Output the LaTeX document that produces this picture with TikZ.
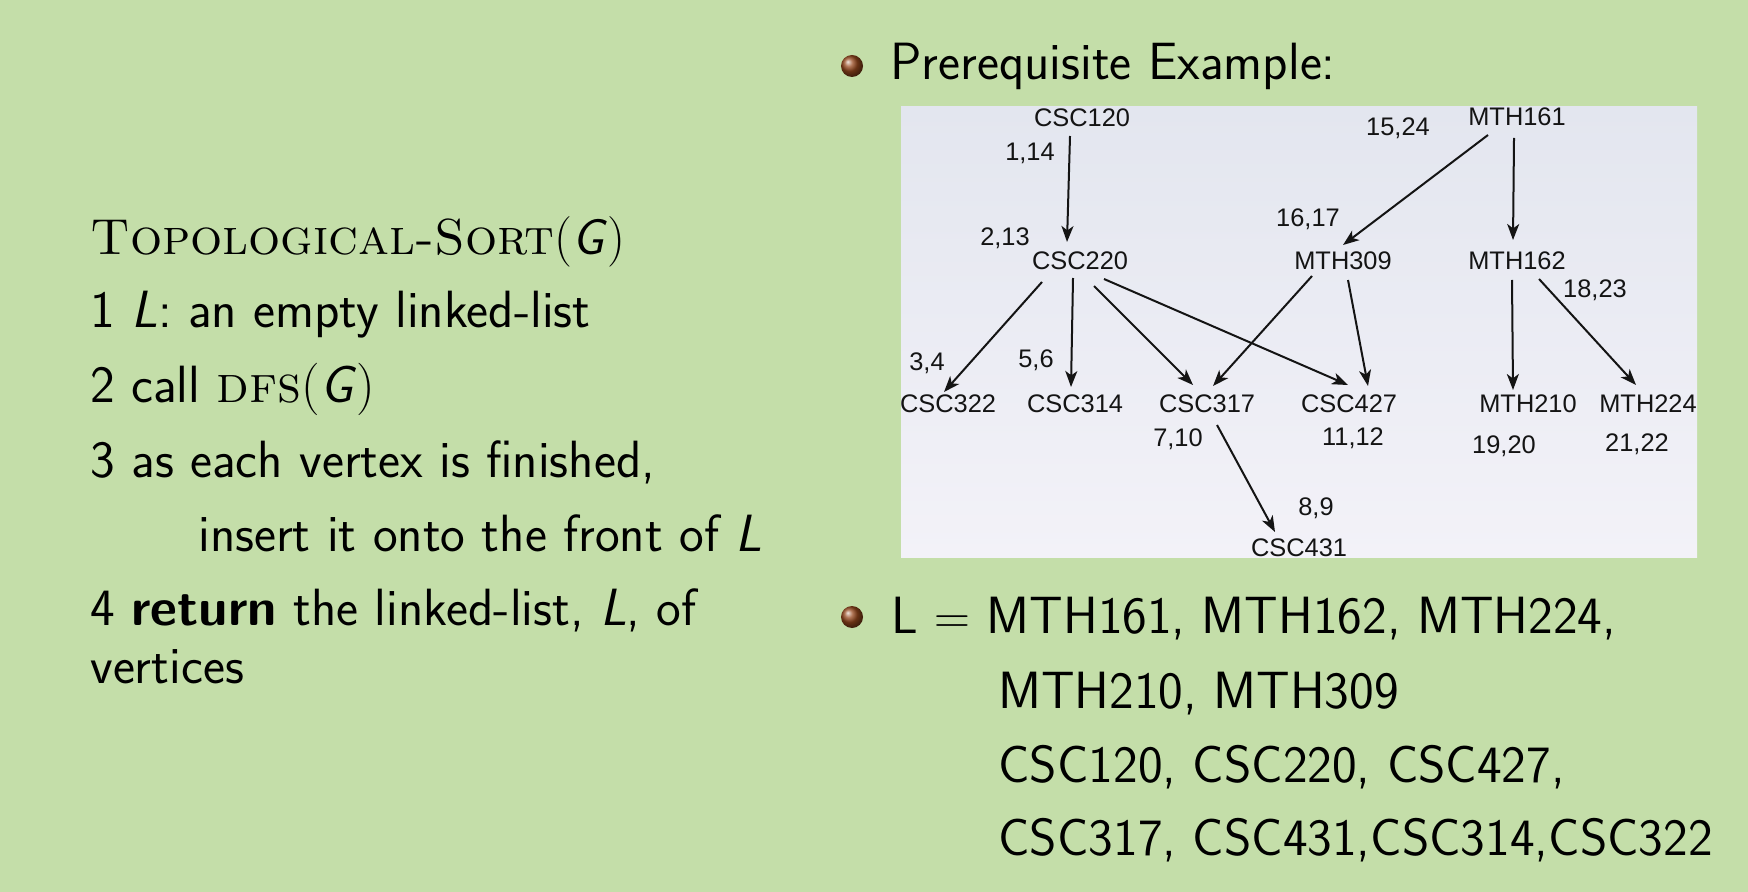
\documentclass[tikz,border=0pt]{standalone}
\usepackage{fontspec}
\newfontfamily\gfont{Liberation Sans}
\usetikzlibrary{arrows.meta,calc}
\definecolor{bgA}{RGB}{196,222,169}
\definecolor{bgB}{RGB}{211,229,176}
\definecolor{boxA}{RGB}{227,230,239}
\definecolor{boxB}{RGB}{243,242,248}
\definecolor{bullcol}{RGB}{150,72,30}
\definecolor{ink}{RGB}{20,20,20}
\tikzset{
  gtext/.style={font=\gfont\fontsize{12.7}{15}\selectfont, text=ink, inner sep=0pt, text depth=0pt},
  garr/.style={draw=ink, line width=1pt, -{Stealth[length=8pt,width=6pt,inset=2.2pt]}},
  mtext/.style={font=\sffamily\fontsize{26.2}{31}\selectfont, anchor=base west, inner sep=0pt},
  ttext/.style={font=\sffamily\fontsize{25.3}{30}\selectfont, anchor=base west, inner sep=0pt},
  bullet/.style={ball color=bullcol}
}
\begin{document}
\begin{tikzpicture}[x=0.5pt,y=-0.5pt]
\useasboundingbox (0,0) rectangle (1748,892);
\shade[top color=bgA, middle color=bgB, bottom color=bgA] (0,0) rectangle (1748,892);

% left pseudo-code
\node[ttext] (t0) at (90,255) {\rmfamily\textsc{Topological-Sort}(\textsf{\textit{G}})};
\node[mtext] (t1) at (90,328) {1 \textit{L}: an empty linked-list};
\node[mtext] (t2) at (90,402) {2 call {\rmfamily\textsc{dfs}(}\textit{G}{\rmfamily)}};
\node[mtext] (t3) at (90,477) {3 as each vertex is finished,};
\node[mtext] (t4) at (198,551) {insert it onto the front of \textit{L}};
\node[mtext] (t5) at (90,625) {4 \textbf{return} the linked-list, \textit{L}, of};
\node[mtext] (t6) at (90,683) {vertices};

% right bullets
\shade[bullet] (852,66) circle (5.5pt);
\node[mtext] (pre) at (890,80) {Prerequisite Example:};
\shade[bullet] (852,617) circle (5.5pt);
\node[mtext] (l1) at (891,633) {L $=$ MTH161, MTH162, MTH224,};
\node[mtext] (l2) at (998,708) {MTH210, MTH309};
\node[mtext] (l3) at (998,782) {CSC120, CSC220, CSC427,};
\node[mtext] (l4) at (998,855) {CSC317, CSC431,CSC314,CSC322};

% graph picture
\begin{scope}
\clip (901,107) rectangle (1697,557);
\shade[top color=boxA, bottom color=boxB] (901,107) rectangle (1697,557);
\node[gtext] (csc120) at (1082,118) {CSC120};
\node[gtext] (csc220) at (1080,261) {CSC220};
\node[gtext] (csc322) at (948,404) {CSC322};
\node[gtext] (csc314) at (1075,404) {CSC314};
\node[gtext] (csc317) at (1207,404) {CSC317};
\node[gtext] (csc427) at (1349,404) {CSC427};
\node[gtext] (csc431) at (1299,548) {CSC431};
\node[gtext] (mth161) at (1517,117) {MTH161};
\node[gtext] (mth309) at (1343,261) {MTH309};
\node[gtext] (mth162) at (1517,261) {MTH162};
\node[gtext] (mth210) at (1528,404) {MTH210};
\node[gtext] (mth224) at (1648,404) {MTH224};

\node[gtext] (l114) at (1030,152) {1,14};
\node[gtext] (l213) at (1005,237) {2,13};
\node[gtext] (l34) at (927,362) {3,4};
\node[gtext] (l56) at (1036,359) {5,6};
\node[gtext] (l710) at (1178,438) {7,10};
\node[gtext] (l89) at (1316,507) {8,9};
\node[gtext] (l1617) at (1308,218) {16,17};
\node[gtext] (l1112) at (1353,437) {11,12};
\node[gtext] (l1524) at (1398,127) {15,24};
\node[gtext] (l1823) at (1595,289) {18,23};
\node[gtext] (l1920) at (1504,445) {19,20};
\node[gtext] (l2122) at (1637,443) {21,22};

\draw[garr] ($(csc120)+(-12,18)$) -- ($(csc220)+(-13,-19)$);
\draw[garr] ($(csc220)+(-38,21)$) -- ($(csc322)+(-4,-12)$);
\draw[garr] ($(csc220)+(-7,17)$) -- ($(csc314)+(-4,-17)$);
\draw[garr] ($(csc220)+(14,25)$) -- ($(csc317)+(-14,-19)$);
\draw[garr] ($(csc220)+(24,18)$) -- ($(csc427)+(-1,-19)$);
\draw[garr] ($(mth309)+(-31,15)$) -- ($(csc317)+(6,-18)$);
\draw[garr] ($(mth309)+(5,19)$) -- ($(csc427)+(19,-18)$);
\draw[garr] ($(csc317)+(10,21)$) -- ($(csc431)+(-24,-16)$);
\draw[garr] ($(mth161)+(-29,18)$) -- ($(mth309)+(0,-16)$);
\draw[garr] ($(mth161)+(-3,21)$) -- ($(mth162)+(-4,-21)$);
\draw[garr] ($(mth162)+(-5,19)$) -- ($(mth210)+(-15,-14)$);
\draw[garr] ($(mth162)+(22,18)$) -- ($(mth224)+(-12,-19)$);
\end{scope}
\end{tikzpicture}
\end{document}
